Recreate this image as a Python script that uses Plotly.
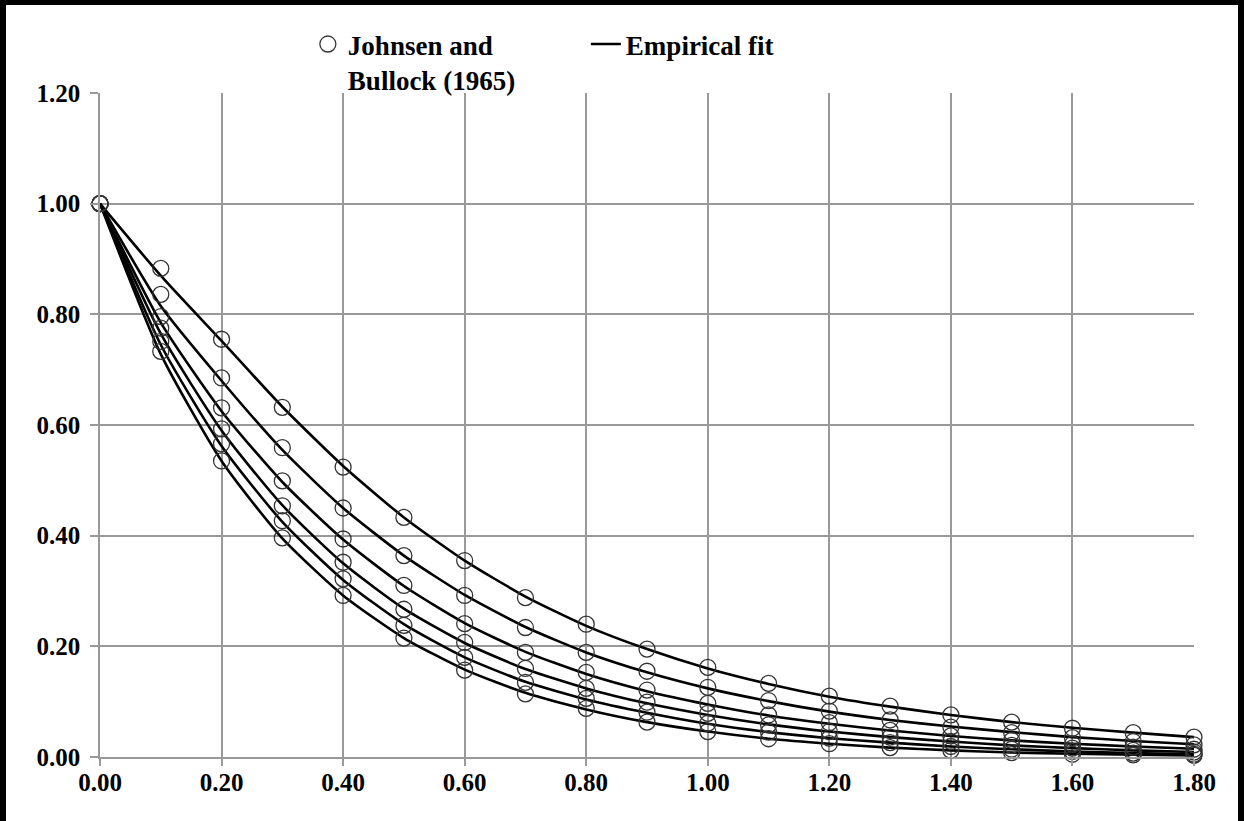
import plotly.graph_objects as go

x_vals = [0.0, 0.1, 0.2, 0.3, 0.4, 0.5, 0.6, 0.7, 0.8, 0.9, 1.0,
          1.1, 1.2, 1.3, 1.4, 1.5, 1.6, 1.7, 1.8]

# Johnsen and Bullock (1965) data points, six series
jb_1 = [1.0, 0.883, 0.755, 0.632, 0.524, 0.433, 0.355, 0.288, 0.240, 0.195, 0.162,
        0.133, 0.110, 0.092, 0.076, 0.063, 0.052, 0.044, 0.036]
jb_2 = [1.0, 0.836, 0.685, 0.559, 0.450, 0.364, 0.292, 0.234, 0.189, 0.155, 0.126,
        0.102, 0.083, 0.067, 0.054, 0.044, 0.035, 0.028, 0.022]
jb_3 = [1.0, 0.796, 0.631, 0.499, 0.394, 0.310, 0.241, 0.189, 0.153, 0.121, 0.097,
        0.076, 0.062, 0.048, 0.038, 0.030, 0.023, 0.018, 0.014]
jb_4 = [1.0, 0.775, 0.593, 0.454, 0.352, 0.267, 0.207, 0.160, 0.124, 0.099, 0.079,
        0.058, 0.046, 0.036, 0.028, 0.021, 0.016, 0.012, 0.009]
jb_5 = [1.0, 0.751, 0.566, 0.427, 0.322, 0.238, 0.180, 0.135, 0.106, 0.081, 0.061,
        0.045, 0.034, 0.026, 0.019, 0.014, 0.010, 0.007, 0.005]
jb_6 = [1.0, 0.733, 0.535, 0.396, 0.292, 0.215, 0.157, 0.114, 0.088, 0.063, 0.046,
        0.033, 0.024, 0.017, 0.012, 0.008, 0.005, 0.004, 0.003]

# Empirical fit curves
fit_1 = [1.0, 0.870, 0.752, 0.633, 0.526, 0.433, 0.355, 0.290, 0.237, 0.195, 0.160,
         0.132, 0.109, 0.091, 0.076, 0.063, 0.053, 0.044, 0.036]
fit_2 = [1.0, 0.815, 0.680, 0.555, 0.450, 0.364, 0.293, 0.235, 0.189, 0.153, 0.124,
         0.101, 0.082, 0.067, 0.055, 0.045, 0.036, 0.029, 0.023]
fit_3 = [1.0, 0.785, 0.625, 0.497, 0.393, 0.309, 0.242, 0.190, 0.150, 0.119, 0.095,
         0.075, 0.060, 0.048, 0.038, 0.030, 0.024, 0.019, 0.015]
fit_4 = [1.0, 0.765, 0.590, 0.455, 0.350, 0.268, 0.206, 0.159, 0.124, 0.097, 0.076,
         0.059, 0.046, 0.036, 0.028, 0.021, 0.016, 0.012, 0.009]
fit_5 = [1.0, 0.745, 0.562, 0.425, 0.320, 0.240, 0.180, 0.136, 0.104, 0.080, 0.060,
         0.045, 0.034, 0.026, 0.019, 0.014, 0.010, 0.007, 0.005]
fit_6 = [1.0, 0.728, 0.535, 0.395, 0.292, 0.215, 0.158, 0.116, 0.086, 0.063, 0.046,
         0.033, 0.024, 0.017, 0.012, 0.008, 0.006, 0.004, 0.003]

x_ticks = [0.0, 0.2, 0.4, 0.6, 0.8, 1.0, 1.2, 1.4, 1.6, 1.8]
y_ticks = [0.0, 0.2, 0.4, 0.6, 0.8, 1.0, 1.2]

FONT = "Liberation Serif"
GRID = "#999999"

fig = go.Figure()

for i, fit in enumerate([fit_1, fit_2, fit_3, fit_4, fit_5, fit_6]):
    fig.add_trace(go.Scatter(
        x=x_vals, y=fit, mode="lines",
        line=dict(color="black", width=2.6, shape="spline", smoothing=0.6),
        name="Empirical fit", showlegend=(i == 0), legendrank=2, hoverinfo="skip"))

all_x, all_y = [], []
for s in [jb_1, jb_2, jb_3, jb_4, jb_5, jb_6]:
    all_x += x_vals
    all_y += s
fig.add_trace(go.Scatter(
    x=all_x, y=all_y, mode="markers",
    marker=dict(symbol="circle-open", size=16, color="#333333",
                line=dict(width=1.3, color="#333333")),
    name="Johnsen and<br>Bullock (1965)", legendrank=1, cliponaxis=False))

tick_font = dict(family=FONT, size=25, color="black", weight="bold")

fig.update_layout(
    width=1244, height=821,
    margin=dict(l=100, r=50, t=93, b=64),
    paper_bgcolor="white", plot_bgcolor="white",
    font=dict(family=FONT, size=25, color="black"),
    showlegend=True,
    legend=dict(orientation="h", x=0.19, y=1.110, xanchor="left", yanchor="top",
                font=dict(family=FONT, size=27, color="black", weight="bold"),
                valign="top", bgcolor="rgba(0,0,0,0)", traceorder="normal",
                itemwidth=30, tracegroupgap=0, entrywidth=233, entrywidthmode="pixels"),
    xaxis=dict(range=[0, 1.8], tickvals=x_ticks, ticktext=[f"{v:.2f}" for v in x_ticks],
               showgrid=True, gridcolor=GRID, gridwidth=1.5,
               showline=True, linecolor=GRID, linewidth=1.5,
               ticks="outside", ticklen=7, tickcolor=GRID, tickwidth=1.5,
               ticklabelstandoff=-5,
               tickfont=tick_font, zeroline=False, mirror=False),
    yaxis=dict(range=[0, 1.2], tickvals=y_ticks, ticktext=[f"{v:.2f}" for v in y_ticks],
               showgrid=True, gridcolor=GRID, gridwidth=1.5,
               showline=True, linecolor=GRID, linewidth=1.5,
               ticks="outside", ticklen=8, tickcolor=GRID, tickwidth=1.5,
               ticklabelstandoff=5,
               tickfont=tick_font, zeroline=False),
)

# outer black frame of the picture
fig.add_shape(type="rect", xref="paper", yref="paper",
              x0=-97 / 1094, x1=1141 / 1094, y0=-70 / 664, y1=755 / 664,
              line=dict(color="black", width=6), fillcolor="rgba(0,0,0,0)", layer="above")

fig.write_html("out.html")
